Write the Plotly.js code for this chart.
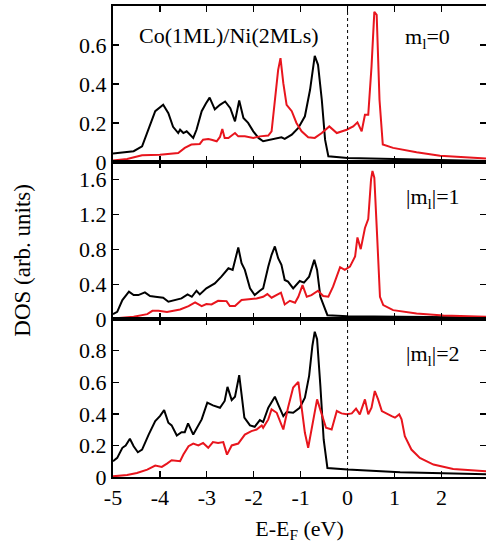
<!DOCTYPE html>
<html>
<head>
<meta charset="utf-8">
<script src="https://cdn.plot.ly/plotly-3.0.1.min.js"></script>
<style>
html,body{margin:0;padding:0;background:#fff;}
#plot{width:486px;height:549px;}
#plot svg text, #plot svg tspan { font-family: 'Liberation Serif', 'Times New Roman', serif !important; }
</style>
</head>
<body>
<div id="plot"></div>
<script>
// ---- m_l = 0 ----
const e0Black = [-5,-4.56,-4.38,-4.24,-4.1,-3.93,-3.82,-3.72,-3.61,-3.57,-3.5,-3.43,-3.36,-3.29,-3.22,-3.11,-3.02,-2.94,-2.83,-2.72,-2.61,-2.5,-2.4,-2.31,-2.22,-2.12,-2.01,-1.9,-1.8,-1.69,-1.55,-1.41,-1.34,-1.19,-1.05,-0.91,-0.8,-0.7,-0.63,-0.55,-0.48,-0.41,0,1.12,2.95];
const d0Black = [0.043,0.055,0.08,0.165,0.26,0.293,0.25,0.18,0.148,0.165,0.148,0.157,0.14,0.123,0.165,0.26,0.30,0.33,0.27,0.293,0.31,0.276,0.208,0.315,0.225,0.2,0.157,0.123,0.106,0.111,0.118,0.126,0.118,0.14,0.174,0.234,0.37,0.544,0.498,0.319,0.114,0.029,0.02,0.015,0.005];
const e0Red = [-5,-4.7,-4.38,-4,-3.61,-3.47,-3.33,-3.15,-3.08,-2.97,-2.9,-2.79,-2.72,-2.67,-2.62,-2.54,-2.4,-2.33,-2.19,-2.01,-1.87,-1.69,-1.62,-1.55,-1.48,-1.43,-1.37,-1.3,-1.19,-1.09,-0.98,-0.84,-0.7,-0.55,-0.39,-0.23,-0.02,0.12,0.21,0.3,0.37,0.44,0.51,0.57,0.62,0.68,0.75,0.97,1.47,1.97,2.54,2.95];
const d0Red = [0.007,0.015,0.034,0.037,0.046,0.072,0.089,0.092,0.114,0.118,0.114,0.106,0.128,0.169,0.123,0.123,0.148,0.131,0.131,0.123,0.131,0.135,0.157,0.30,0.472,0.532,0.404,0.293,0.26,0.2,0.157,0.126,0.123,0.148,0.182,0.148,0.165,0.182,0.203,0.157,0.242,0.242,0.489,0.77,0.754,0.319,0.089,0.072,0.049,0.032,0.022,0.017];
// ---- |m_l| = 1 ----
const e1Black = [-5,-4.91,-4.8,-4.66,-4.56,-4.46,-4.32,-4.21,-4.1,-3.93,-3.82,-3.64,-3.54,-3.41,-3.32,-3.22,-3.15,-3.01,-2.83,-2.69,-2.54,-2.45,-2.4,-2.33,-2.26,-2.19,-2.08,-1.98,-1.87,-1.8,-1.69,-1.62,-1.55,-1.48,-1.41,-1.34,-1.27,-1.16,-1.02,-0.93,-0.82,-0.71,-0.65,-0.58,-0.43,0,1.12,2.95];
const d1Black = [0.058,0.084,0.219,0.315,0.276,0.276,0.307,0.265,0.257,0.246,0.2,0.219,0.238,0.284,0.257,0.326,0.284,0.353,0.41,0.487,0.583,0.564,0.66,0.821,0.641,0.564,0.353,0.276,0.326,0.353,0.602,0.737,0.833,0.698,0.622,0.449,0.43,0.353,0.437,0.418,0.487,0.679,0.564,0.257,0.046,0.035,0.027,0.019];
const e1Red = [-5,-4.56,-4.27,-4.16,-4.03,-3.85,-3.57,-3.39,-3.25,-3.11,-3.01,-2.9,-2.76,-2.58,-2.51,-2.4,-2.26,-2.12,-1.94,-1.8,-1.71,-1.62,-1.51,-1.42,-1.34,-1.23,-1.12,-1.05,-0.96,-0.87,-0.77,-0.63,-0.52,-0.41,-0.31,-0.16,-0.06,0.05,0.16,0.21,0.28,0.37,0.44,0.5,0.53,0.57,0.63,0.69,0.76,0.97,1.47,2.04,2.95];
const d1Red = [0.008,0.027,0.058,0.096,0.096,0.084,0.111,0.15,0.192,0.15,0.173,0.169,0.211,0.207,0.15,0.15,0.219,0.226,0.238,0.257,0.288,0.246,0.276,0.303,0.169,0.211,0.188,0.257,0.391,0.257,0.276,0.326,0.265,0.257,0.372,0.595,0.564,0.602,0.718,0.936,0.802,1.044,1.147,1.6,1.696,1.619,0.948,0.257,0.161,0.104,0.065,0.042,0.027];
// ---- |m_l| = 2 ----
const e2Black = [-5,-4.91,-4.8,-4.73,-4.64,-4.56,-4.47,-4.38,-4.24,-4.1,-4,-3.91,-3.82,-3.75,-3.64,-3.54,-3.47,-3.4,-3.29,-3.19,-3.11,-2.99,-2.87,-2.72,-2.62,-2.56,-2.47,-2.4,-2.31,-2.26,-2.2,-2.08,-1.98,-1.87,-1.8,-1.69,-1.55,-1.48,-1.37,-1.3,-1.16,-1.02,-0.91,-0.82,-0.75,-0.7,-0.65,-0.58,-0.51,-0.43,0,1.12,2.95];
const d2Black = [0.1,0.121,0.185,0.2,0.242,0.195,0.157,0.174,0.269,0.354,0.386,0.424,0.344,0.327,0.263,0.284,0.284,0.34,0.269,0.323,0.365,0.471,0.454,0.439,0.482,0.571,0.488,0.509,0.645,0.524,0.376,0.327,0.318,0.361,0.348,0.439,0.509,0.46,0.386,0.412,0.407,0.439,0.503,0.641,0.832,0.921,0.874,0.577,0.238,0.057,0.047,0.03,0.017];
const e2Red = [-5,-4.7,-4.49,-4.27,-4.1,-3.96,-3.85,-3.75,-3.57,-3.5,-3.39,-3.29,-3.18,-3.08,-2.97,-2.87,-2.76,-2.65,-2.57,-2.47,-2.33,-2.19,-2.05,-1.94,-1.83,-1.8,-1.69,-1.62,-1.51,-1.37,-1.27,-1.16,-1.05,-0.98,-0.91,-0.84,-0.75,-0.65,-0.55,-0.46,-0.34,-0.23,-0.13,-0.02,0.09,0.18,0.26,0.37,0.44,0.51,0.58,0.65,0.73,0.83,0.94,1.01,1.1,1.15,1.22,1.36,1.54,1.83,2.25,2.95];
const d2Red = [0.004,0.013,0.025,0.047,0.072,0.064,0.085,0.106,0.1,0.142,0.195,0.212,0.2,0.216,0.185,0.221,0.216,0.221,0.142,0.2,0.212,0.269,0.291,0.301,0.327,0.312,0.365,0.429,0.407,0.301,0.439,0.567,0.603,0.45,0.28,0.185,0.344,0.492,0.397,0.312,0.301,0.418,0.403,0.397,0.403,0.433,0.397,0.492,0.397,0.439,0.545,0.492,0.418,0.401,0.386,0.376,0.397,0.365,0.259,0.174,0.121,0.079,0.051,0.036];

const xTickVals = [-5,-4,-3,-2,-1,0,1,2];
const xTickText = ['-5','-4','-3','-2','-1','0','1','2'];
const y0Ticks = [0,0.2,0.4,0.6];
const y1Ticks = [0,0.4,0.8,1.2,1.6];
const y2Ticks = [0,0.2,0.4,0.6,0.8];

const BLACK = '#000000', RED = '#e8151d';
const FONT = 'Times New Roman';

function tr(x, y, c, xa, ya) {
  return {x: x, y: y, type: 'scatter', mode: 'lines', xaxis: xa, yaxis: ya,
          line: {color: c, width: 2}, hoverinfo: 'skip', showlegend: false};
}
const data = [
  tr(e0Black, d0Black, BLACK, 'x', 'y'),
  tr(e0Red, d0Red, RED, 'x', 'y'),
  tr(e1Black, d1Black, BLACK, 'x2', 'y2'),
  tr(e1Red, d1Red, RED, 'x2', 'y2'),
  tr(e2Black, d2Black, BLACK, 'x3', 'y3'),
  tr(e2Red, d2Red, RED, 'x3', 'y3')
];

function xax(anchor, showLabels) {
  return {anchor: anchor, range: [-5, 2.95], tickvals: xTickVals, ticktext: xTickText, ticks: 'inside', ticklen: 6,
    tickwidth: 1.3, tickcolor: '#000', showline: true, linecolor: '#000', linewidth: 2,
    mirror: 'allticks', showgrid: false, zeroline: false, showticklabels: showLabels,
    tickfont: {family: FONT, size: 22}};
}
function yax(anchor, domain, range, ticks) {
  return {anchor: anchor, domain: domain, range: range, tickvals: ticks, ticks: 'inside', ticklen: 6,
    tickwidth: 1.3, tickcolor: '#000', showline: true, linecolor: '#000', linewidth: 2,
    mirror: 'ticks', showgrid: false, zeroline: false,
    tickfont: {family: FONT, size: 22}};
}

const layout = {
  width: 486, height: 549,
  margin: {l: 113, r: 0, t: 6, b: 72},
  font: {family: FONT, size: 22, color: '#000'},
  xaxis: xax('y', false),
  xaxis2: Object.assign(xax('y2', false), {matches: 'x'}),
  xaxis3: Object.assign(xax('y3', true), {matches: 'x',
    title: {text: 'E-E<sub>F</sub> (eV)', font: {family: FONT, size: 22}, standoff: 11}}),
  yaxis: yax('x', [0.669, 1], [0, 0.8], y0Ticks),
  yaxis2: yax('x2', [0.335, 0.669], [0, 1.8], y1Ticks),
  yaxis3: yax('x3', [0, 0.335], [0, 1.0], y2Ticks),
  shapes: [
    {type: 'line', xref: 'x', yref: 'paper', x0: 0, x1: 0, y0: 0, y1: 1,
     line: {color: '#000', width: 1, dash: 'dot'}}
  ],
  annotations: [
    {text: 'DOS (arb. units)', xref: 'paper', yref: 'paper', x: -0.243, y: 0.46,
     textangle: -90, showarrow: false, xanchor: 'center', yanchor: 'middle',
     font: {family: FONT, size: 23}},
    {text: 'Co(1ML)/Ni(2MLs)', xref: 'paper', yref: 'paper', x: 0.064, y: (477-36)/471,
     showarrow: false, xanchor: 'left', yanchor: 'middle', font: {family: FONT, size: 22}},
    {text: 'm<sub>l</sub>=0', xref: 'paper', yref: 'paper', x: 0.777, y: (477-38)/471,
     showarrow: false, xanchor: 'left', yanchor: 'middle', font: {family: FONT, size: 22}},
    {text: '|m<sub>l</sub>|=1', xref: 'paper', yref: 'paper', x: 0.781, y: (477-198)/471,
     showarrow: false, xanchor: 'left', yanchor: 'middle', font: {family: FONT, size: 22}},
    {text: '|m<sub>l</sub>|=2', xref: 'paper', yref: 'paper', x: 0.781, y: (477-355)/471,
     showarrow: false, xanchor: 'left', yanchor: 'middle', font: {family: FONT, size: 22}}
  ]
};

Plotly.newPlot('plot', data, layout, {displayModeBar: false, staticPlot: true});
</script>
</body>
</html>
